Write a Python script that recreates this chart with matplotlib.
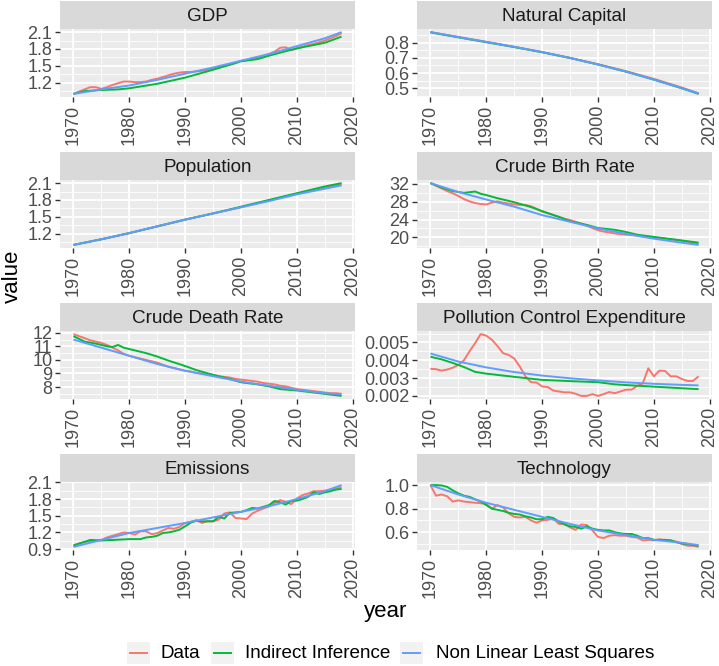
import matplotlib
matplotlib.use("Agg")
import matplotlib.pyplot as plt
from matplotlib.patches import Rectangle
from matplotlib.lines import Line2D
import numpy as np

plt.rcParams['font.family'] = ['Liberation Sans', 'DejaVu Sans']

# ---- data -------------------------------------------------------------
years = list(range(1970, 2019))
y5 = [1970, 1975, 1980, 1985, 1990, 1995, 2000, 2005, 2010, 2015, 2018]

series_names = ["Data", "Indirect Inference", "Non Linear Least Squares"]
series_colors = ["#F8766D", "#00BA38", "#619CFF"]

# GDP
gdp_data = [1.00, 1.04, 1.08, 1.12, 1.12, 1.09, 1.12, 1.16, 1.19, 1.22,
            1.22, 1.21, 1.21, 1.22, 1.25, 1.27, 1.30, 1.33, 1.36, 1.38,
            1.39, 1.39, 1.40, 1.41, 1.43, 1.45, 1.47, 1.50, 1.52, 1.55,
            1.59, 1.60, 1.62, 1.64, 1.67, 1.71, 1.75, 1.82, 1.83, 1.78,
            1.81, 1.84, 1.87, 1.89, 1.92, 1.95, 1.99, 2.03, 2.08]
gdp_ii_years = [1970, 1972, 1975, 1978, 1980, 1985, 1990, 1995, 2000, 2003,
                2005, 2008, 2010, 2015, 2018]
gdp_ii = [1.00, 1.05, 1.07, 1.08, 1.10, 1.18, 1.29, 1.43, 1.58, 1.62,
          1.68, 1.76, 1.81, 1.91, 2.02]
gdp_nlls = [1.00, 1.08, 1.15, 1.25, 1.36, 1.47, 1.59, 1.71, 1.85, 1.99, 2.10]

# Natural Capital
nc_data = [0.870, 0.838, 0.806, 0.773, 0.738, 0.700, 0.658, 0.612, 0.561, 0.504, 0.466]
nc_ii = [0.868, 0.835, 0.803, 0.771, 0.737, 0.699, 0.656, 0.609, 0.556, 0.499, 0.462]
nc_nlls = [0.870, 0.837, 0.805, 0.773, 0.738, 0.699, 0.656, 0.609, 0.557, 0.500, 0.465]

# Population
pop_data = [1.00, 1.10, 1.21, 1.33, 1.45, 1.56, 1.67, 1.79, 1.91, 2.02, 2.08]
pop_ii = [1.00, 1.10, 1.21, 1.33, 1.45, 1.56, 1.68, 1.80, 1.92, 2.04, 2.10]
pop_nlls = [1.00, 1.10, 1.21, 1.33, 1.45, 1.56, 1.67, 1.78, 1.90, 2.00, 2.06]

# Crude Birth Rate
cbr_data = [32.2, 31.6, 31.0, 30.4, 29.9, 29.3, 28.6, 28.1, 27.7, 27.5,
            27.4, 27.8, 28.1, 27.8, 27.6, 27.4, 27.3, 27.3, 27.0, 26.4,
            25.8, 25.4, 25.0, 24.6, 24.2, 23.9, 23.5, 23.1, 22.6, 22.1,
            21.6, 21.3, 21.1, 20.9, 20.7, 20.6, 20.5, 20.4, 20.2, 20.1,
            20.0, 19.8, 19.7, 19.5, 19.4, 19.2, 19.0, 18.8, 18.6]
cbr_ii_years = [1970, 1972, 1974, 1976, 1978, 1979, 1980, 1982, 1985, 1988,
                1990, 1993, 1995, 1998, 2000, 2003, 2005, 2007, 2010, 2015, 2018]
cbr_ii = [32.2, 31.2, 30.4, 30.0, 30.3, 29.8, 29.5, 28.8, 27.9, 26.8,
          25.9, 24.6, 23.6, 22.8, 22.1, 21.7, 21.2, 20.6, 20.1, 19.3, 18.8]
cbr_nlls = [32.2, 30.2, 28.5, 26.9, 25.0, 23.5, 22.0, 20.8, 19.7, 18.8, 18.3]

# Crude Death Rate
cdr_data = [11.9, 11.75, 11.6, 11.45, 11.35, 11.25, 11.1, 10.9, 10.7, 10.45,
            10.3, 10.2, 10.1, 10.0, 9.9, 9.8, 9.65, 9.5, 9.4, 9.3,
            9.2, 9.15, 9.05, 9.0, 8.95, 8.9, 8.8, 8.75, 8.7, 8.6,
            8.55, 8.5, 8.45, 8.4, 8.3, 8.25, 8.2, 8.1, 8.05, 7.95,
            7.85, 7.8, 7.75, 7.7, 7.65, 7.6, 7.55, 7.55, 7.5]
cdr_ii_years = [1970, 1972, 1974, 1976, 1977, 1978, 1979, 1980, 1982, 1983,
                1985, 1987, 1990, 1992, 1995, 1998, 2000, 2003, 2005, 2007,
                2010, 2015, 2018]
cdr_ii = [11.75, 11.35, 11.2, 11.0, 10.95, 11.1, 10.9, 10.8, 10.6, 10.5,
          10.25, 9.95, 9.55, 9.25, 8.9, 8.6, 8.35, 8.2, 8.05, 7.85,
          7.75, 7.5, 7.35]
cdr_nlls = [11.5, 10.9, 10.3, 9.7, 9.2, 8.8, 8.4, 8.1, 7.8, 7.55, 7.45]

# Pollution Control Expenditure
pce_data = [0.00352, 0.00350, 0.00342, 0.00348, 0.00358, 0.00374, 0.00400, 0.00450, 0.00496, 0.00547,
            0.00538, 0.00515, 0.00480, 0.00440, 0.00430, 0.00410, 0.00365, 0.00310, 0.00277, 0.00275,
            0.00253, 0.00250, 0.00230, 0.00225, 0.00220, 0.00220, 0.00212, 0.00200, 0.00200, 0.00210,
            0.00200, 0.00210, 0.00222, 0.00215, 0.00225, 0.00235, 0.00235, 0.00256, 0.00270, 0.00355,
            0.00310, 0.00342, 0.00340, 0.00310, 0.00310, 0.00295, 0.00284, 0.00284, 0.00310]
pce_ii_years = [1970, 1972, 1974, 1976, 1978, 1980, 1985, 1990, 1995, 2000,
                2003, 2005, 2010, 2015, 2018]
pce_ii = [0.00420, 0.00405, 0.00385, 0.00362, 0.00335, 0.00325, 0.00307, 0.00290, 0.00283, 0.00277,
          0.00265, 0.00261, 0.00252, 0.00243, 0.00238]
pce_nlls = [0.00438, 0.00393, 0.00360, 0.00334, 0.00314, 0.00299, 0.00287, 0.00276, 0.00268, 0.00262, 0.00259]

# Emissions
em_data = [0.97, 1.00, 1.03, 1.04, 1.05, 1.065, 1.11, 1.14, 1.17, 1.20,
           1.19, 1.16, 1.22, 1.22, 1.17, 1.185, 1.235, 1.28, 1.265, 1.30,
           1.37, 1.39, 1.42, 1.37, 1.40, 1.40, 1.43, 1.54, 1.56, 1.46,
           1.45, 1.44, 1.54, 1.59, 1.63, 1.67, 1.73, 1.78, 1.75, 1.71,
           1.81, 1.87, 1.90, 1.94, 1.94, 1.95, 1.97, 1.98, 2.01]
em_ii = [0.96, 1.00, 1.03, 1.065, 1.06, 1.055, 1.06, 1.065, 1.07, 1.075,
         1.08, 1.08, 1.08, 1.11, 1.12, 1.14, 1.19, 1.20, 1.22, 1.25,
         1.31, 1.375, 1.41, 1.40, 1.40, 1.40, 1.48, 1.45, 1.55, 1.56,
         1.57, 1.60, 1.64, 1.63, 1.66, 1.69, 1.765, 1.74, 1.70, 1.765,
         1.77, 1.80, 1.84, 1.92, 1.89, 1.92, 1.94, 1.97, 1.98]
em_nlls = [0.94, 1.065, 1.19, 1.28, 1.37, 1.47, 1.57, 1.67, 1.80, 1.94, 2.05]

# Technology
tech_data = [1.00, 0.91, 0.92, 0.905, 0.86, 0.87, 0.86, 0.855, 0.85, 0.846,
             0.84, 0.80, 0.83, 0.81, 0.76, 0.73, 0.725, 0.73, 0.70, 0.68,
             0.70, 0.705, 0.715, 0.67, 0.67, 0.64, 0.62, 0.665, 0.66, 0.615,
             0.56, 0.55, 0.57, 0.575, 0.57, 0.57, 0.56, 0.555, 0.53, 0.535,
             0.53, 0.54, 0.53, 0.53, 0.52, 0.50, 0.485, 0.485, 0.475]
tech_ii = [1.00, 1.00, 0.997, 0.985, 0.955, 0.93, 0.91, 0.90, 0.88, 0.86,
           0.83, 0.80, 0.79, 0.78, 0.765, 0.755, 0.75, 0.735, 0.725, 0.71,
           0.71, 0.73, 0.72, 0.69, 0.665, 0.65, 0.645, 0.63, 0.65, 0.63,
           0.62, 0.615, 0.615, 0.60, 0.59, 0.585, 0.585, 0.57, 0.55, 0.55,
           0.535, 0.535, 0.535, 0.53, 0.515, 0.505, 0.50, 0.49, 0.485]
tech_nlls = [1.00, 0.92, 0.85, 0.79, 0.73, 0.67, 0.615, 0.575, 0.535, 0.51, 0.49]

panel_titles = ["GDP", "Natural Capital", "Population", "Crude Birth Rate",
                "Crude Death Rate", "Pollution Control Expenditure",
                "Emissions", "Technology"]

panel_series = [
    [(years, gdp_data), (gdp_ii_years, gdp_ii), (y5, gdp_nlls)],
    [(y5, nc_data), (y5, nc_ii), (y5, nc_nlls)],
    [(y5, pop_data), (y5, pop_ii), (y5, pop_nlls)],
    [(years, cbr_data), (cbr_ii_years, cbr_ii), (y5, cbr_nlls)],
    [(years, cdr_data), (cdr_ii_years, cdr_ii), (y5, cdr_nlls)],
    [(years, pce_data), (pce_ii_years, pce_ii), (y5, pce_nlls)],
    [(years, em_data), (years, em_ii), (y5, em_nlls)],
    [(years, tech_data), (years, tech_ii), (y5, tech_nlls)],
]

panel_yticks = [
    [1.2, 1.5, 1.8, 2.1],
    [0.5, 0.6, 0.7, 0.8],
    [1.2, 1.5, 1.8, 2.1],
    [20, 24, 28, 32],
    [8, 9, 10, 11, 12],
    [0.002, 0.003, 0.004, 0.005],
    [0.9, 1.2, 1.5, 1.8, 2.1],
    [0.6, 0.8, 1.0],
]
panel_ylabels = [
    ["1.2", "1.5", "1.8", "2.1"],
    ["0.5", "0.6", "0.7", "0.8"],
    ["1.2", "1.5", "1.8", "2.1"],
    ["20", "24", "28", "32"],
    ["8", "9", "10", "11", "12"],
    ["0.002", "0.003", "0.004", "0.005"],
    ["0.9", "1.2", "1.5", "1.8", "2.1"],
    ["0.6", "0.8", "1.0"],
]
x_ticks = [1970, 1980, 1990, 2000, 2010, 2020]

# ---- layout (pixels) ----------------------------------------------------
W, H = 719, 666
fig = plt.figure(figsize=(W / 100, H / 100), dpi=100)


def box(x0, y0, x1, y1):
    return [x0 / W, 1 - y1 / H, (x1 - x0) / W, (y1 - y0) / H]


col_x = [60, 417]
panel_w = 295
row_top = [29, 180, 331, 482]
panel_h = 68
strip_h = 28

xmin, xmax = min(years), max(years)
xpad = (xmax - xmin) * 0.05

for i, title in enumerate(panel_titles):
    r, c = divmod(i, 2)
    x0, y0 = col_x[c], row_top[r]
    ax = fig.add_axes(box(x0, y0, x0 + panel_w, y0 + panel_h))
    ax.set_facecolor("#EBEBEB")
    for s in ax.spines.values():
        s.set_visible(False)

    allv = []
    for (xs, vs), col in zip(panel_series[i], series_colors):
        ax.plot(xs, vs, color=col, lw=1.4, solid_capstyle="butt", zorder=3)
        allv += list(vs)
    lo, hi = min(allv), max(allv)
    pad = (hi - lo) * 0.05

    yt = panel_yticks[i]
    ax.set_yticks(yt)
    ax.set_yticklabels(panel_ylabels[i])
    step = yt[1] - yt[0]
    yminor = [yt[0] - step / 2] + [v + step / 2 for v in yt]
    ax.set_yticks(yminor, minor=True)
    ax.set_xticks(x_ticks)
    ax.set_xticklabels([str(v) for v in x_ticks])
    ax.set_xticks([v + 5 for v in x_ticks[:-1]] + [1965], minor=True)
    ax.set_ylim(lo - pad, hi + pad)
    ax.set_xlim(xmin - xpad, xmax + xpad)

    ax.grid(which="major", color="white", lw=1.3)
    ax.grid(which="minor", color="white", lw=0.6)
    ax.set_axisbelow(True)
    ax.tick_params(which="major", length=3.5, width=1.0, color="#333333",
                   labelcolor="#4D4D4D", labelsize=13, pad=2)
    ax.tick_params(which="minor", length=0)
    ax.tick_params(axis="x", labelrotation=90)

    sax = fig.add_axes(box(x0, y0 - strip_h, x0 + panel_w, y0))
    sax.set_facecolor("#D9D9D9")
    sax.set_xticks([])
    sax.set_yticks([])
    for s in sax.spines.values():
        s.set_visible(False)
    sax.text(0.5, 0.46, title, ha="center", va="center", fontsize=13.6,
             color="#1A1A1A", transform=sax.transAxes)

# axis titles
fig.text(12 / W, 1 - 276 / H, "value", rotation=90, ha="center", va="center",
         fontsize=16, color="black")
fig.text(386 / W, 1 - 611 / H, "year", ha="center", va="center",
         fontsize=16, color="black")

# legend
key_x = [127, 211, 400]
text_x = [160, 245, 436]
ky0, ky1 = 642, 664
for kx, tx, name, col in zip(key_x, text_x, series_names, series_colors):
    fig.add_artist(Rectangle((kx / W, 1 - ky1 / H), 23 / W, (ky1 - ky0) / H,
                             transform=fig.transFigure, facecolor="#F2F2F2",
                             edgecolor="none"))
    ym = 1 - (ky0 + ky1) / 2 / H
    fig.add_artist(Line2D([(kx + 3) / W, (kx + 20) / W], [ym, ym],
                          transform=fig.transFigure, color=col, lw=1.4))
    fig.text(tx / W, ym, name, ha="left", va="center", fontsize=13.6,
             color="black")

fig.savefig("out.png", dpi=100, facecolor="white")
